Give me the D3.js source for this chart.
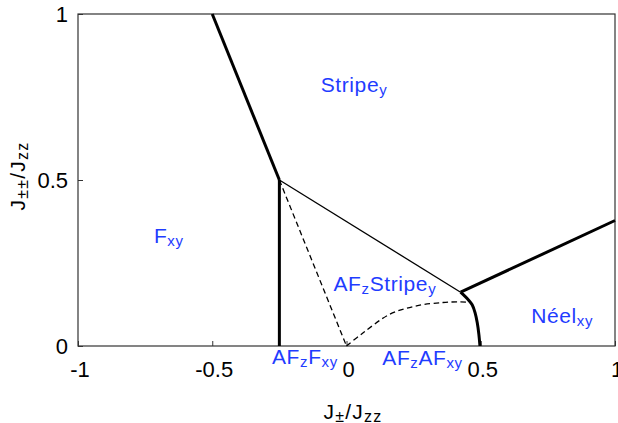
<!DOCTYPE html>
<html>
<head>
    <meta charset="UTF-8" />
    <style>
        body {
            margin: 0;
            padding: 0;
            background: #fff;
            font-family: "Liberation Sans", Arial, sans-serif;
        }

        .thick { fill: none; stroke: #000; stroke-width: 3px; }
        .thin { fill: none; stroke: #000; stroke-width: 1.3px; }
        .dash { fill: none; stroke: #000; stroke-width: 1.3px; stroke-dasharray: 5.5 3.5; }
        .tick-label { font-size: 22px; fill: #000; }
        .phase { fill: #1f3cff; font-size: 21px; letter-spacing: 0.6px; }
        .axis-label { font-size: 21px; fill: #000; letter-spacing: 1.2px; }
    </style>
    <title>phase diagram</title>
</head>
<body>
<svg width="618" height="423"></svg>
<script src="https://d3js.org/d3.v7.min.js"></script>
<script>
    // ticks
    const xTicks = [-1, -0.5, 0, 0.5, 1]
    const xTickText = ["-1", "-0.5", "0", "0.5", "1"]
    const yTicks = [0, 0.5, 1]
    const yTickText = ["0", "0.5", "1"]

    // phase boundaries, [J±/Jzz, J±±/Jzz]
    const stripeFxy = [[-0.5, 1], [-0.25, 0.5]]
    const fxyAFzFxy = [[-0.25, 0.5], [-0.25, 0]]
    const stripeAFz = [[-0.25, 0.5], [0.425, 0.162]]
    const stripeNeel = [[0.425, 0.162], [1, 0.378]]
    const neelEdge = [[0.425, 0.162], [0.455, 0.138], [0.468, 0.124], [0.479, 0.10],
        [0.487, 0.07], [0.493, 0.035], [0.497, 0]]
    const dashLeft = [[-0.25, 0.5], [0, 0]]
    const dashCurve = [[0, 0], [0.061, 0.039], [0.162, 0.096], [0.261, 0.121],
        [0.359, 0.131], [0.423, 0.133], [0.463, 0.131]]

    // phase names: alternating main text / subscript, centre x and baseline y in data units
    const phaseNames = [
        { parts: ["Stripe", "y"], x: 0.028, y: 0.766 },
        { parts: ["F", "xy"], x: -0.662, y: 0.311 },
        { parts: ["AF", "z", "Stripe", "y"], x: 0.143, y: 0.166 },
        { parts: ["Néel", "xy"], x: 0.803, y: 0.068 },
        { parts: ["AF", "z", "F", "xy"], x: -0.155, y: -0.055 },
        { parts: ["AF", "z", "AF", "xy"], x: 0.283, y: -0.058 }
    ]

    const svg = d3.select("svg")
    const margin = { left: 78, right: 3, top: 14, bottom: 77 }
    const width = 618, height = 423

    const x = d3.scaleLinear().domain([-1, 1]).range([margin.left, width - margin.right])
    const y = d3.scaleLinear().domain([0, 1]).range([height - margin.bottom, margin.top])

    // box
    svg.append("rect")
        .attr("x", x(-1)).attr("y", y(1))
        .attr("width", x(1) - x(-1)).attr("height", y(0) - y(1))
        .attr("fill", "none").attr("stroke", "#333").attr("stroke-width", 1.2)

    // inward ticks
    svg.append("g").attr("transform", `translate(0,${y(0)})`)
        .call(d3.axisBottom(x).tickValues(xTicks).tickSizeInner(-5).tickSizeOuter(0).tickFormat(""))
        .call(g => g.select(".domain").remove())
        .call(g => g.selectAll("line").attr("stroke", "#333"))
    svg.append("g").attr("transform", `translate(${x(-1)},0)`)
        .call(d3.axisLeft(y).tickValues(yTicks).tickSizeInner(-5).tickSizeOuter(0).tickFormat(""))
        .call(g => g.select(".domain").remove())
        .call(g => g.selectAll("line").attr("stroke", "#333"))

    svg.selectAll(".xt").data(xTicks).enter().append("text")
        .attr("class", "tick-label")
        .attr("x", d => x(d) + 2).attr("y", 377)
        .attr("text-anchor", "middle")
        .text((d, i) => xTickText[i])
    svg.selectAll(".yt").data(yTicks).enter().append("text")
        .attr("class", "tick-label")
        .attr("x", 68).attr("y", d => y(d) + 8)
        .attr("text-anchor", "end")
        .text((d, i) => yTickText[i])

    // axis labels
    function label(t, pm) {
        t.append("tspan").text("J")
        t.append("tspan").attr("font-size", 16).attr("dy", 2.5).text(pm)
        t.append("tspan").attr("dy", -2.5).text("/J")
        t.append("tspan").attr("font-size", 16).attr("dy", 2.5).text("zz")
    }
    svg.append("text").attr("class", "axis-label")
        .attr("x", 353).attr("y", 419).attr("text-anchor", "middle")
        .call(label, "±")
    svg.append("text").attr("class", "axis-label")
        .attr("transform", `translate(25,176) rotate(-90)`)
        .attr("text-anchor", "middle")
        .call(label, "±±")

    const line = d3.line().x(d => x(d[0])).y(d => y(d[1]))
    const curve = d3.line().x(d => x(d[0])).y(d => y(d[1])).curve(d3.curveCatmullRom)

    svg.append("path").attr("class", "thin").attr("d", line(stripeAFz))
    svg.append("path").attr("class", "dash").attr("d", line(dashLeft))
    svg.append("path").attr("class", "dash").attr("d", curve(dashCurve))
    svg.append("path").attr("class", "thick").attr("d", line(stripeFxy))
    svg.append("path").attr("class", "thick").attr("d", line(fxyAFzFxy))
    svg.append("path").attr("class", "thick").attr("d", line(stripeNeel))
    svg.append("path").attr("class", "thick").attr("d", curve(neelEdge))

    // phase labels
    phaseNames.forEach(p => {
        const t = svg.append("text").attr("class", "phase")
            .attr("x", x(p.x)).attr("y", y(p.y)).attr("text-anchor", "middle")
        p.parts.forEach((s, i) => {
            const sub = i % 2 === 1
            t.append("tspan")
                .attr("font-size", sub ? 15 : null)
                .attr("dy", i === 0 ? 0 : (sub ? 3 : -3))
                .text(s)
        })
    })
</script>
</body>
</html>
